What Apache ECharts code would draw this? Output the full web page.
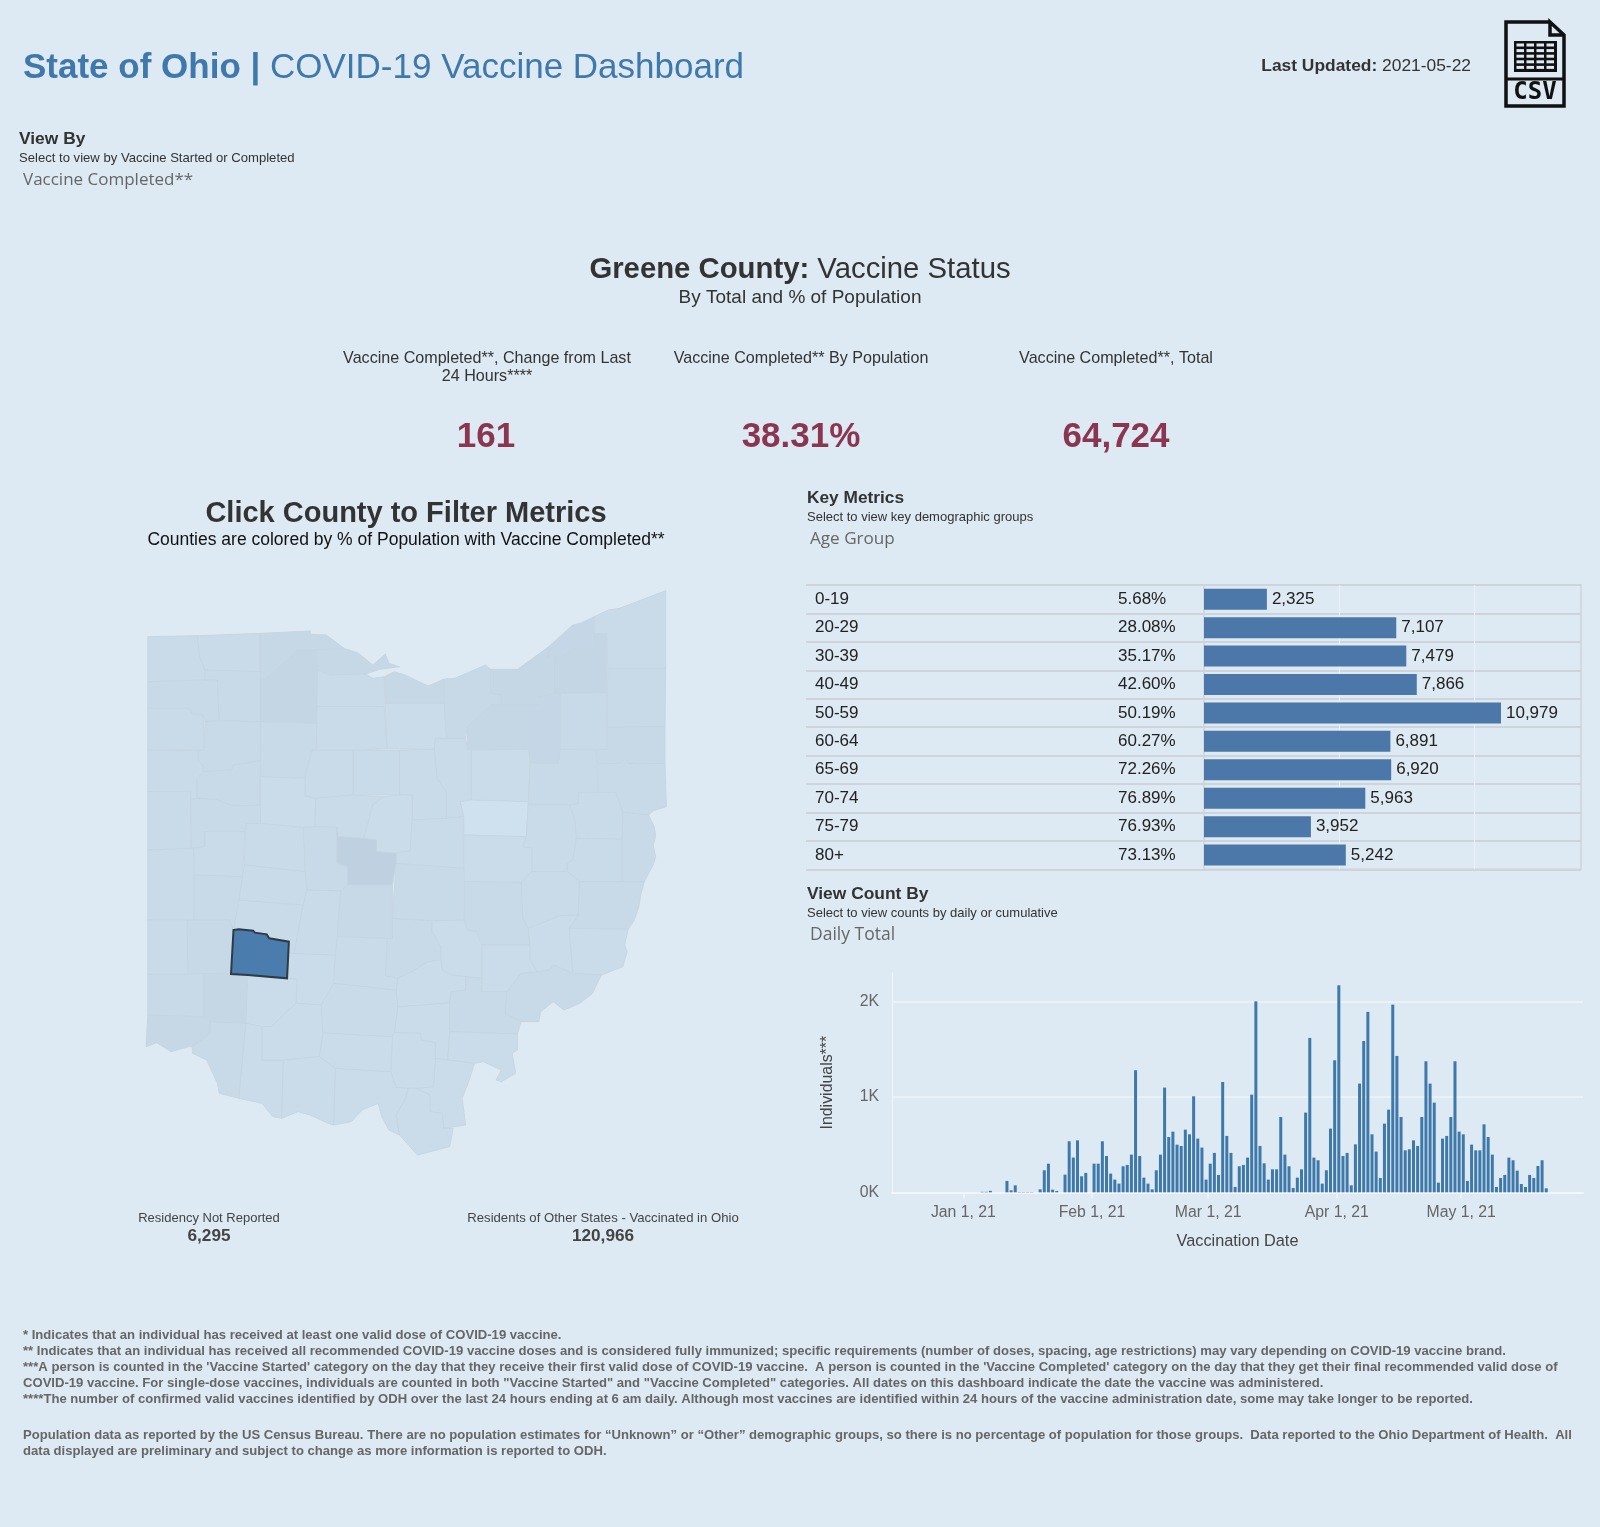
<!DOCTYPE html>
<html>
<head>
<meta charset="utf-8">
<title>State of Ohio | COVID-19 Vaccine Dashboard</title>
<script src="https://cdn.jsdelivr.net/npm/echarts@6/dist/echarts.min.js"></script>
<style>
html, body { margin: 0; padding: 0; background: #dde9f3; }
#main { width: 1600px; height: 1527px; }
</style>
</head>
<body>
<div id="main"></div>
<script>
var myChart1 = echarts.init(document.getElementById('main'));

// age table
var ageGroups = ['0-19', '20-29', '30-39', '40-49', '50-59', '60-64', '65-69', '70-74', '75-79', '80+'];
var agePercents = ['5.68%', '28.08%', '35.17%', '42.60%', '50.19%', '60.27%', '72.26%', '76.89%', '76.93%', '73.13%'];
var ageTotals = [2325, 7107, 7479, 7866, 10979, 6891, 6920, 5963, 3952, 5242];

// daily counts, first value is Dec 16 2020, last is May 21 2021
var dailyStart = '2020-12-16';
var dailyCounts = [
  0, 0, 0, 0, 0, 0, 0, 0, 0, 0, 0, 0, 0, 0, 0, 0,
  0, 0, 0, 0, 5, 5, 15, 0, 0, 0, 119, 21, 73, 3, 3, 3, 3, 0, 31, 231, 300, 28, 14, 0, 185, 535, 364, 545, 168, 203, 0,
  300, 300, 535, 381, 196, 133, 91, 273, 287, 395, 1280, 381, 154, 91, 31, 231, 395, 1098, 580, 636, 500, 486, 657, 608, 1007, 563, 469, 133,
  300, 413, 182, 1157, 591, 413, 56, 273, 287, 364, 1024, 2003, 486, 304, 133, 241, 241, 790, 395, 273, 45, 154, 241, 836, 1619, 364, 336, 91, 231, 668, 1385,
  2171, 381, 413, 73, 503, 1140, 1587, 1892, 608, 427, 150, 720, 867, 1968, 1430, 790, 440, 451, 545, 486, 790, 1374, 1140, 940, 101, 563, 591, 790, 1374, 636,
  608, 119, 500, 440, 440, 713, 580, 395, 56, 150, 182, 364, 336, 227, 87, 56, 182, 150, 276, 336, 42
];

// % of population with vaccine completed, one per county
var countyNames = [
  'Williams', 'Fulton', 'Lucas', 'Ottawa', 'Wood', 'Sandusky', 'Erie', 'Lorain', 'Huron', 'Cuyahoga', 'Medina', 'Summit',
  'Lake', 'Geauga', 'Ashtabula', 'Trumbull', 'Portage', 'Mahoning', 'Columbiana', 'Carroll', 'Stark', 'Wayne', 'Ashland', 'Richland',
  'Crawford', 'Wyandot', 'Seneca', 'Hancock', 'Defiance', 'Henry', 'Paulding', 'Putnam', 'Van Wert', 'Allen', 'Hardin', 'Marion',
  'Morrow', 'Knox', 'Holmes', 'Tuscarawas', 'Coshocton', 'Harrison', 'Jefferson', 'Belmont', 'Guernsey', 'Muskingum', 'Noble', 'Monroe',
  'Washington', 'Morgan', 'Perry', 'Fairfield', 'Hocking', 'Licking', 'Athens', 'Vinton', 'Meigs', 'Gallia', 'Jackson', 'Scioto',
  'Lawrence', 'Pike', 'Ross', 'Pickaway', 'Fayette', 'Clark', 'Madison', 'Union', 'Delaware', 'Franklin', 'Logan', 'Champaign',
  'Mercer', 'Auglaize', 'Shelby', 'Darke', 'Miami', 'Montgomery', 'Preble', 'Butler', 'Warren', 'Clinton', 'Hamilton', 'Clermont',
  'Brown', 'Highland', 'Adams', 'Greene'
];
var countyPercents = [
  31, 32, 37, 37, 41, 32, 37, 35, 29, 39, 39, 38,
  38, 41, 31, 33, 34, 35, 33, 30, 34, 29, 30, 31,
  31, 32, 32, 34, 33, 33, 30, 33, 32, 33, 29, 31,
  29, 31, 13, 32, 29, 30, 33, 33, 30, 33, 28, 29,
  33, 28, 29, 34, 29, 34, 33, 27, 28, 29, 28, 29,
  28, 27, 30, 31, 29, 32, 30, 34, 50, 36, 30, 30,
  31, 33, 31, 31, 34, 35, 31, 33, 39, 29, 37, 33,
  28, 28, 27, 38.31
];

// county outlines, x then y going down, same order as countyNames
var countyOutlines = [
  [50,200, 188,197, 195,260, 210,300, 210,330, 50,335],
  [188,197, 365,190, 365,305, 210,300, 195,260],
  [365,190, 505,183, 505,193, 550,195, 600,235, 520,240, 470,240, 430,280, 380,325, 365,330],
  [520,240, 600,235, 640,250, 680,285, 715,252, 725,280, 755,290, 700,298, 660,312, 560,315, 525,300],
  [365,330, 380,325, 430,280, 470,240, 520,240, 525,300, 524,410, 522,460, 365,455],
  [525,300, 560,315, 660,312, 680,325, 712,320, 712,410, 524,410],
  [712,320, 740,305, 770,315, 835,348, 880,327, 880,400, 715,400],
  [880,327, 910,325, 995,285, 1010,298, 1010,370, 1040,375, 1040,405, 1010,405, 945,470, 940,505, 885,505, 880,400],
  [715,400, 880,400, 885,505, 855,505, 852,538, 720,536],
  [1010,298, 1040,298, 1085,298, 1170,232, 1170,262, 1190,262, 1190,370, 1145,380, 1145,405, 1040,405, 1040,375, 1010,370],
  [1010,405, 1105,405, 1105,538, 945,538, 945,470],
  [1105,405, 1145,405, 1145,380, 1190,370, 1205,370, 1205,538, 1200,580, 1120,578, 1118,540, 1105,538],
  [1170,232, 1240,165, 1260,160, 1300,140, 1300,235, 1240,235, 1210,262, 1170,262],
  [1190,262, 1210,262, 1240,235, 1300,235, 1300,190, 1335,190, 1335,368, 1205,370, 1190,370],
  [1300,140, 1340,120, 1370,115, 1500,62, 1500,295, 1338,295, 1335,190, 1300,190],
  [1338,295, 1500,295, 1498,470, 1335,472],
  [1205,370, 1335,368, 1335,538, 1205,538],
  [1335,472, 1498,470, 1498,580, 1400,582, 1385,568, 1370,580, 1310,582, 1305,540, 1335,538],
  [1310,582, 1370,580, 1385,568, 1400,582, 1498,580, 1502,710, 1465,722, 1452,735, 1380,727, 1360,668, 1310,668],
  [1255,668, 1360,668, 1380,727, 1378,808, 1250,805, 1245,745, 1230,705, 1255,700],
  [1120,578, 1200,580, 1205,538, 1305,540, 1310,668, 1255,668, 1255,700, 1230,705, 1115,705, 1115,695],
  [955,540, 1105,538, 1118,540, 1120,578, 1115,695, 955,690],
  [855,505, 940,505, 945,538, 955,540, 955,690, 925,695, 935,740, 885,745, 885,665, 860,625, 852,538],
  [755,540, 852,538, 860,625, 885,665, 885,745, 790,750, 790,675, 755,675],
  [625,540, 755,540, 755,675, 625,675],
  [510,540, 625,540, 625,675, 520,685, 490,678, 490,625, 497,590],
  [524,410, 712,410, 720,536, 625,540, 510,540, 522,536],
  [365,455, 522,460, 522,536, 510,540, 497,590, 490,625, 365,620],
  [50,335, 210,330, 245,330, 250,452, 210,455, 205,435, 175,432, 165,415, 50,415],
  [210,300, 365,305, 365,455, 250,452, 245,330, 210,330],
  [50,415, 165,415, 175,432, 205,435, 208,540, 50,540],
  [210,455, 250,452, 365,455, 365,572, 290,585, 285,600, 205,605, 205,590, 190,570, 190,542, 208,540],
  [50,540, 190,542, 190,570, 205,590, 205,605, 188,625, 188,685, 170,688, 170,665, 50,665],
  [205,605, 285,600, 290,585, 365,572, 365,705, 290,708, 245,690, 188,685, 188,625],
  [365,620, 490,625, 490,678, 520,685, 518,770, 485,772, 365,760],
  [520,685, 625,675, 710,680, 680,705, 655,805, 580,800, 580,772, 518,770],
  [710,680, 755,675, 790,675, 790,750, 785,842, 745,850, 690,845, 690,810, 655,805, 680,705],
  [790,750, 885,745, 935,740, 935,895, 745,880, 745,850, 785,842],
  [925,695, 955,690, 1115,695, 1115,705, 1110,800, 935,795, 935,740],
  [1115,705, 1230,705, 1245,745, 1250,805, 1240,870, 1225,880, 1225,905, 1125,905, 1125,835, 1100,830, 1110,800],
  [935,795, 1110,800, 1100,830, 1125,835, 1125,905, 1095,937, 935,935],
  [1250,805, 1378,808, 1378,935, 1258,935, 1225,905, 1225,880, 1240,870],
  [1380,727, 1452,735, 1468,770, 1472,800, 1465,825, 1472,860, 1465,885, 1450,915, 1440,935, 1378,935, 1378,808],
  [1258,935, 1378,935, 1440,935, 1430,975, 1425,1010, 1412,1050, 1395,1078, 1230,1075, 1255,1035],
  [1095,937, 1125,905, 1225,905, 1258,935, 1255,1035, 1205,1037, 1140,1065, 1115,1075, 1100,1045],
  [935,935, 1095,937, 1100,1045, 1115,1075, 1120,1125, 985,1125, 970,1085, 945,1080, 935,1050],
  [1115,1075, 1140,1065, 1205,1037, 1255,1035, 1230,1075, 1240,1210, 1185,1185, 1175,1200, 1140,1205, 1120,1170, 1120,1125],
  [1230,1075, 1395,1078, 1385,1125, 1392,1145, 1380,1190, 1320,1215, 1240,1210],
  [1140,1205, 1175,1200, 1185,1185, 1240,1210, 1320,1215, 1295,1270, 1260,1300, 1215,1320, 1185,1295, 1150,1325, 1145,1355, 1095,1355, 1050,1330, 1055,1265, 1095,1210],
  [985,1125, 1120,1125, 1120,1170, 1140,1205, 1095,1210, 1055,1265, 985,1265, 985,1225],
  [845,1052, 935,1050, 945,1080, 970,1085, 985,1125, 985,1225, 940,1220, 900,1215, 875,1200, 870,1170, 870,1130, 845,1085],
  [735,1045, 845,1052, 845,1085, 870,1130, 870,1170, 835,1175, 790,1205, 750,1225, 715,1218, 720,1105, 735,1105],
  [750,1225, 790,1205, 835,1175, 870,1170, 875,1200, 900,1215, 940,1220, 940,1260, 900,1265, 895,1298, 825,1305, 750,1310, 745,1260],
  [745,880, 935,895, 935,1050, 845,1052, 735,1045],
  [940,1220, 985,1225, 985,1265, 1055,1265, 1050,1330, 1095,1355, 1085,1392, 895,1385, 895,1298, 900,1265, 940,1260],
  [750,1310, 825,1305, 895,1298, 895,1385, 890,1470, 855,1465, 855,1418, 815,1410, 815,1390, 740,1388],
  [895,1385, 1085,1392, 1085,1440, 1070,1450, 1080,1510, 1040,1535, 1025,1530, 1040,1500, 990,1475, 965,1480, 890,1470],
  [855,1465, 890,1470, 965,1480, 950,1530, 930,1585, 940,1665, 878,1675, 875,1630, 840,1625, 840,1575, 800,1555, 850,1550],
  [740,1388, 815,1390, 815,1410, 855,1418, 855,1465, 850,1550, 800,1555, 780,1555, 745,1552, 730,1505, 735,1400],
  [575,1495, 730,1505, 745,1552, 780,1555, 770,1590, 745,1635, 755,1695, 725,1680, 705,1640, 695,1600, 650,1620, 620,1655, 570,1665],
  [780,1555, 800,1555, 840,1575, 840,1625, 875,1630, 878,1675, 905,1675, 895,1730, 805,1755, 755,1695, 745,1635, 770,1590],
  [540,1388, 735,1400, 730,1505, 575,1495, 530,1460],
  [535,1305, 570,1240, 665,1250, 745,1260, 750,1310, 740,1388, 735,1400, 540,1388],
  [580,1100, 720,1105, 715,1218, 750,1225, 745,1260, 665,1250, 570,1240, 575,1155],
  [445,1148, 460,1150, 575,1155, 570,1240, 535,1305, 465,1300, 468,1228, 440,1225, 445,1115],
  [305,990, 485,1005, 460,1150, 445,1148, 445,1115, 390,1105, 383,1093, 350,1088, 345,1082, 305,1078, 290,1080],
  [495,960, 590,962, 580,1100, 575,1155, 460,1150, 485,1005],
  [485,772, 518,770, 580,772, 580,880, 610,890, 610,945, 590,962, 495,960, 490,905],
  [580,772, 580,800, 655,805, 690,810, 690,845, 745,850, 745,880, 735,945, 610,945, 610,890, 580,880],
  [610,945, 735,945, 735,1105, 720,1105, 580,1100, 590,962],
  [325,760, 365,760, 485,772, 490,905, 320,885],
  [320,885, 490,905, 495,960, 485,1005, 305,990, 315,920],
  [50,665, 170,665, 170,688, 172,835, 50,840],
  [188,685, 245,690, 290,708, 365,705, 365,760, 325,760, 322,785, 210,785, 210,830, 172,835, 170,688],
  [210,785, 322,785, 315,920, 180,915, 178,838, 172,835, 210,830],
  [50,840, 172,835, 178,838, 180,915, 180,1050, 160,1050, 50,1050],
  [180,915, 315,920, 305,990, 290,1080, 278,1050, 180,1050],
  [160,1050, 278,1050, 290,1080, 283,1212, 205,1210, 162,1213],
  [50,1050, 160,1050, 162,1213, 50,1213],
  [50,1213, 162,1213, 205,1210, 205,1340, 50,1335],
  [205,1210, 283,1212, 330,1215, 325,1360, 225,1355, 205,1340],
  [330,1215, 440,1225, 468,1228, 465,1300, 395,1370, 370,1370, 325,1360],
  [50,1335, 205,1340, 225,1355, 225,1390, 175,1430, 165,1430, 115,1445, 75,1418, 45,1430],
  [225,1355, 325,1360, 305,1585, 250,1570, 245,1540, 215,1470, 175,1450, 175,1430, 225,1390],
  [325,1360, 370,1370, 370,1470, 430,1470, 425,1645, 400,1640, 370,1600, 305,1585],
  [370,1370, 395,1370, 465,1300, 535,1305, 540,1388, 530,1460, 430,1470, 370,1470],
  [430,1470, 530,1460, 575,1495, 570,1665, 555,1660, 505,1635, 470,1625, 425,1645],
  [290,1080, 305,1078, 345,1082, 350,1088, 383,1093, 390,1105, 445,1115, 440,1225, 330,1215, 283,1212]
];

// footnotes
var footLines = [
  '* Indicates that an individual has received at least one valid dose of COVID-19 vaccine.',
  '** Indicates that an individual has received all recommended COVID-19 vaccine doses and is considered fully immunized; specific requirements (number of doses, spacing, age restrictions) may vary depending on COVID-19 vaccine brand.',
  "***A person is counted in the 'Vaccine Started' category on the day that they receive their first valid dose of COVID-19 vaccine.  A person is counted in the 'Vaccine Completed' category on the day that they get their final recommended valid dose of",
  'COVID-19 vaccine. For single-dose vaccines, individuals are counted in both "Vaccine Started" and "Vaccine Completed" categories. All dates on this dashboard indicate the date the vaccine was administered.',
  '****The number of confirmed valid vaccines identified by ODH over the last 24 hours ending at 6 am daily. Although most vaccines are identified within 24 hours of the vaccine administration date, some may take longer to be reported.',
  'Population data as reported by the US Census Bureau. There are no population estimates for \u201cUnknown\u201d or \u201cOther\u201d demographic groups, so there is no percentage of population for those groups.  Data reported to the Ohio Department of Health.  All',
  'data displayed are preliminary and subject to change as more information is reported to ODH.'
];
var footY = [1334, 1350, 1365.5, 1382, 1398, 1434, 1450];

var sansFont = '"Liberation Sans", Arial, sans-serif';
var pickerFont = '"Open Sans", sans-serif';
var gridWhite = '#eaf1f7';

// map: trace units are wider than tall, 0.357 px across and 0.333 px down
var features = countyNames.map(function (name, i) {
  var flat = countyOutlines[i], ring = [];
  for (var k = 0; k < flat.length; k += 2) ring.push([flat[k], -flat[k + 1]]);
  ring.push(ring[0]);
  return { type: 'Feature', properties: { name: name }, geometry: { type: 'Polygon', coordinates: [ring] } };
});
echarts.registerMap('ohio', { type: 'FeatureCollection', features: features });

var countyData = countyNames.map(function (name, i) {
  if (name === 'Greene') {
    return { name: name, value: countyPercents[i], itemStyle: { areaColor: '#4a7cad', borderColor: '#2f3a45', borderWidth: 2 } };
  }
  var t = Math.min(1, Math.max(0, (countyPercents[i] - 13) / 37));
  return { name: name, value: countyPercents[i], itemStyle: { areaColor: echarts.color.lerp(t, ['#cfe1ef', '#c9dbe9', '#bfd1e0']) } };
});

// small helper for the free text on the page
function txt(x, y, text, size, color, extra) {
  var style = { text: text, x: 0, y: 0, font: (extra && extra.weight ? extra.weight + ' ' : '') + size + 'px ' + (extra && extra.font ? extra.font : sansFont),
    fill: color, align: (extra && extra.align) || 'left', verticalAlign: 'middle' };
  if (extra && extra.rich) style.rich = extra.rich;
  return { type: 'text', x: x, y: y + 1.5, silent: true, style: style };
}

var csvIcon = {
  type: 'group', silent: true,
  children: [
    { type: 'polyline', shape: { points: [[1550, 22], [1506, 22], [1506, 106], [1564, 106], [1564, 35], [1550, 22], [1550, 35], [1564, 35]] }, style: { stroke: '#111', lineWidth: 3.5, fill: '#dde9f3' } },
    { type: 'rect', shape: { x: 1514, y: 41, width: 43, height: 31 }, style: { fill: '#111' } },
    { type: 'line', shape: { x1: 1506, y1: 79, x2: 1564, y2: 79 }, style: { stroke: '#111', lineWidth: 3 } },
    { type: 'text', x: 1535, y: 93, style: { text: 'CSV', font: 'bold 24px "DejaVu Sans Mono"', fill: '#111', align: 'center', verticalAlign: 'middle' } }
  ]
};
// white cells of the little table on the icon
for (var r = 0; r < 5; r++) {
  for (var c = 0; c < 4; c++) {
    csvIcon.children.splice(2, 0, { type: 'rect', shape: { x: 1516.5 + c * 10, y: 43.5 + r * 5.6, width: 7.5, height: 3 }, style: { fill: '#dde9f3' } });
  }
}

var pageText = [
  txt(23, 66.5, '{b|State of Ohio | }COVID-19 Vaccine Dashboard', 35, '#3f79ab', { rich: { b: { font: 'bold 35px ' + sansFont, fill: '#3f79ab' } } }),
  txt(1471, 65, '{b|Last Updated:} 2021-05-22', 17.4, '#333', { align: 'right', rich: { b: { font: 'bold 17.4px ' + sansFont, fill: '#333' } } }),
  txt(19, 138, 'View By', 17.4, '#333', { weight: 'bold' }),
  txt(19, 157, 'Select to view by Vaccine Started or Completed', 13.1, '#333'),
  txt(23, 178.5, 'Vaccine Completed**', 17, '#666', { font: pickerFont }),
  txt(800, 268, '{b|Greene County:} Vaccine Status', 29.3, '#333', { align: 'center', rich: { b: { font: 'bold 29.3px ' + sansFont, fill: '#333' } } }),
  txt(800, 296, 'By Total and % of Population', 19, '#333', { align: 'center' }),
  txt(487, 357, 'Vaccine Completed**, Change from Last', 16.1, '#333', { align: 'center' }),
  txt(487, 375.5, '24 Hours****', 16.1, '#333', { align: 'center' }),
  txt(801, 357, 'Vaccine Completed** By Population', 16.1, '#333', { align: 'center' }),
  txt(1116, 357, 'Vaccine Completed**, Total', 16.1, '#333', { align: 'center' }),
  txt(486, 436, '161', 35, '#8a3650', { align: 'center', weight: 'bold' }),
  txt(801, 436, '38.31%', 35, '#8a3650', { align: 'center', weight: 'bold' }),
  txt(1116, 436, '64,724', 35, '#8a3650', { align: 'center', weight: 'bold' }),
  txt(406, 512.5, 'Click County to Filter Metrics', 29, '#333', { align: 'center', weight: 'bold' }),
  txt(406, 539, 'Counties are colored by % of Population with Vaccine Completed**', 17.5, '#111', { align: 'center' }),
  txt(807, 497, 'Key Metrics', 17.3, '#333', { weight: 'bold' }),
  txt(807, 516, 'Select to view key demographic groups', 13, '#333'),
  txt(810, 538, 'Age Group', 17.1, '#666', { font: pickerFont }),
  txt(807, 893, 'View Count By', 17.4, '#333', { weight: 'bold' }),
  txt(807, 912, 'Select to view counts by daily or cumulative', 13, '#333'),
  txt(810, 934, 'Daily Total', 17.5, '#666', { font: pickerFont }),
  txt(209, 1216.5, 'Residency Not Reported', 13, '#444', { align: 'center' }),
  txt(209, 1234.5, '6,295', 17.2, '#444', { align: 'center', weight: 'bold' }),
  txt(603, 1216.5, 'Residents of Other States - Vaccinated in Ohio', 13.15, '#444', { align: 'center' }),
  txt(603, 1234.5, '120,966', 17.2, '#444', { align: 'center', weight: 'bold' })
];
footLines.forEach(function (line, i) {
  pageText.push(txt(23, footY[i], line, 13.1, '#666', { weight: 'bold' }));
});
pageText.push(csvIcon);

// daily bars sit at midday on their date
var startTime = new Date(dailyStart + 'T12:00:00Z').getTime();
var dailyPairs = dailyCounts.map(function (count, d) {
  return [startTime + d * 86400000, count];
});

var option = {
  backgroundColor: '#dde9f3',
  animation: false,
  useUTC: true,
  textStyle: { fontFamily: sansFont },
  graphic: pageText,
  grid: [
    { left: 806, top: 585, width: 398, height: 284.3, show: false },
    { left: 1204, top: 585, width: 377, height: 284.3, show: true, borderColor: '#cfd4dc', borderWidth: 1.5, backgroundColor: 'transparent' },
    { left: 892, top: 973, width: 691, height: 219.3 }
  ],
  xAxis: [
    { gridIndex: 0, type: 'value', min: 0, max: 1, show: false },
    { gridIndex: 1, type: 'value', min: 0, max: 13937, interval: 5000,
      axisLabel: { show: false }, axisLine: { show: false }, axisTick: { show: false },
      splitLine: { show: true, showMinLine: false, showMaxLine: false, lineStyle: { color: gridWhite, width: 1 } } },
    { gridIndex: 2, type: 'time',
      min: Date.UTC(2020, 11, 15, 3, 36), max: Date.UTC(2021, 4, 30, 0, 0),
      minInterval: 28 * 86400000,
      axisLine: { lineStyle: { color: '#f2f6fa', width: 2 } },
      axisTick: { show: true, length: 6, lineStyle: { color: '#f2f6fa', width: 1.5 } },
      splitLine: { show: false },
      axisLabel: { showMinLabel: false, showMaxLabel: false, hideOverlap: false, color: '#666', fontSize: 15.8, margin: 12, fontFamily: sansFont,
        formatter: '{MMM} {d}, {yy}' },
      name: 'Vaccination Date', nameLocation: 'middle', nameGap: 41,
      nameTextStyle: { color: '#444', fontSize: 16.3, fontFamily: sansFont } }
  ],
  yAxis: [
    { gridIndex: 0, type: 'category', inverse: true, data: ageGroups,
      axisLine: { show: false }, axisTick: { show: false },
      axisLabel: { inside: true, margin: 9, color: '#222', fontSize: 17, fontFamily: sansFont, padding: [6, 0, 0, 0] },
      splitLine: { show: true, lineStyle: { color: '#cfd4dc', width: 2 } } },
    { gridIndex: 0, type: 'category', inverse: true, data: agePercents, position: 'right',
      axisLine: { show: false }, axisTick: { show: false }, splitLine: { show: false },
      axisLabel: { inside: true, margin: 86, align: 'left', color: '#222', fontSize: 17, fontFamily: sansFont, padding: [6, 0, 0, 0] } },
    { gridIndex: 1, type: 'category', inverse: true, data: ageGroups,
      axisLine: { show: false }, axisTick: { show: false }, axisLabel: { show: false },
      splitLine: { show: true, lineStyle: { color: '#cfd4dc', width: 2 } } },
    { gridIndex: 2, type: 'value', min: 0, max: 2300, interval: 1000,
      axisLine: { show: true, lineStyle: { color: '#f2f6fa', width: 1 } },
      axisTick: { show: false },
      axisLabel: { showMaxLabel: false, margin: 13, color: '#666', fontSize: 15.8, fontFamily: sansFont,
        formatter: function (v) { return (v / 1000) + 'K'; } },
      splitLine: { showMaxLine: false, showMinLine: false, lineStyle: { color: gridWhite, width: 2 } },
      name: 'Individuals***', nameLocation: 'middle', nameGap: 56, nameRotate: 90,
      nameTextStyle: { color: '#444', fontSize: 15.9, fontFamily: sansFont } }
  ],
  series: [
    {
      type: 'map', map: 'ohio', silent: true, roam: false, selectedMode: false,
      left: 146, top: 590.7, width: 520.4, height: 564.3, aspectScale: 1.0714,
      label: { show: false }, emphasis: { disabled: true },
      itemStyle: { borderColor: '#c5d3df', borderWidth: 0.8 },
      data: countyData
    },
    {
      type: 'bar', xAxisIndex: 1, yAxisIndex: 2, data: ageTotals, barWidth: 21, silent: true,
      itemStyle: { color: '#4b78a8' },
      label: { show: true, position: 'right', distance: 5, color: '#222', fontSize: 17, fontFamily: sansFont,
        formatter: function (p) { return p.value.toLocaleString('en-US'); } }
    },
    {
      type: 'bar', xAxisIndex: 2, yAxisIndex: 3, data: dailyPairs, barWidth: 3, silent: true,
      itemStyle: { color: '#3f79a9' }
    }
  ]
};
myChart1.setOption(option);
</script>
</body>
</html>
